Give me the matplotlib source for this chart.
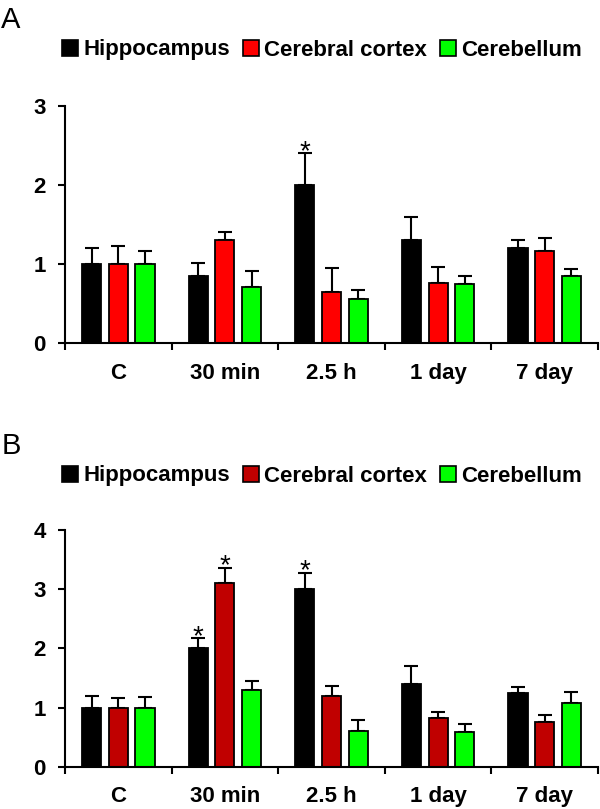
import matplotlib
matplotlib.use("Agg")
import matplotlib.pyplot as plt
from matplotlib.patches import Patch

plt.rcParams['font.family'] = ['Liberation Sans', 'DejaVu Sans']

categories = ["C", "30 min", "2.5 h", "1 day", "7 day"]
series = ["Hippocampus", "Cerebral cortex", "Cerebellum"]

# Panel A: means and upper error
hip_A = [1.00, 0.85, 2.00, 1.30, 1.20]
hip_A_err = [0.20, 0.16, 0.40, 0.30, 0.10]
ctx_A = [1.00, 1.30, 0.65, 0.76, 1.16]
ctx_A_err = [0.23, 0.10, 0.30, 0.20, 0.17]
cbl_A = [1.00, 0.71, 0.56, 0.745, 0.85]
cbl_A_err = [0.16, 0.20, 0.11, 0.10, 0.09]
sig_A = [(0, 2)]  # (series index, category index)

# Panel B
hip_B = [1.00, 2.00, 3.00, 1.40, 1.24]
hip_B_err = [0.19, 0.17, 0.28, 0.30, 0.10]
ctx_B = [1.00, 3.10, 1.19, 0.82, 0.75]
ctx_B_err = [0.155, 0.26, 0.17, 0.10, 0.12]
cbl_B = [1.00, 1.30, 0.60, 0.58, 1.07]
cbl_B_err = [0.18, 0.14, 0.19, 0.14, 0.20]
sig_B = [(0, 1), (1, 1), (0, 2)]

colors_A = ["#000000", "#FF0000", "#00FF00"]
colors_B = ["#000000", "#C00000", "#00FF00"]

fig = plt.figure(figsize=(6, 8.09), dpi=100)
W, H = 600, 809


def ax_rect(left, right, top, bottom):
    return [left / W, 1 - bottom / H, (right - left) / W, (bottom - top) / H]


def draw_panel(ax, vals, errs, colors, sigs, ymax):
    offsets = [-0.25, 0.0, 0.25]
    width = 0.18
    for s in range(3):
        xs = [i + 0.5 + offsets[s] for i in range(len(categories))]
        ax.errorbar(xs, vals[s], yerr=[[0] * len(errs[s]), errs[s]], fmt='none',
                    ecolor='black', elinewidth=1.5, capsize=5, capthick=1.5, zorder=1)
        ax.bar(xs, vals[s], width=width, color=colors[s], edgecolor='black',
               linewidth=1.3, zorder=2)
    for s, c in sigs:
        x = c + 0.5 + offsets[s]
        y = vals[s][c] + errs[s][c]
        ax.annotate('*', (x, y), xytext=(0, -4), textcoords='offset points',
                    ha='center', va='baseline', fontsize=20)
    ax.set_xlim(0, len(categories))
    ax.set_ylim(0, ymax)
    ax.set_yticks(range(0, ymax + 1))
    ax.set_xticks(range(0, len(categories) + 1))
    ax.set_xticklabels([])
    ax.set_xticks([i + 0.5 for i in range(len(categories))], minor=True)
    ax.set_xticklabels(categories, minor=True, fontsize=16, fontweight='bold')
    ax.tick_params(axis='x', which='minor', length=0, pad=14)
    ax.tick_params(axis='x', which='major', length=5, width=1.5, direction='out')
    ax.tick_params(axis='y', length=5, width=1.5, direction='out', pad=9)
    for lab in ax.get_yticklabels():
        lab.set_fontsize(16)
        lab.set_fontweight('bold')
    for sp in ['top', 'right']:
        ax.spines[sp].set_visible(False)
    for sp in ['left', 'bottom']:
        ax.spines[sp].set_linewidth(1.5)


def add_legend(colors, ycenter):
    handles = [Patch(facecolor=c, edgecolor='black', linewidth=1.2) for c in colors]
    fig.legend(handles, series, loc='center left',
               bbox_to_anchor=(62 / W, 1 - ycenter / H), ncol=3, frameon=False,
               borderpad=0, borderaxespad=0, handlelength=0.7, handleheight=0.7,
               handletextpad=0.25, columnspacing=0.6,
               prop={'size': 16, 'weight': 'bold'})


axA = fig.add_axes(ax_rect(65, 598, 105.7, 343.3))
draw_panel(axA, [hip_A, ctx_A, cbl_A], [hip_A_err, ctx_A_err, cbl_A_err],
           colors_A, sig_A, 3)
add_legend(colors_A, 50)
fig.text(0.002, 1 - 28 / H, "A", fontsize=21, va='baseline', ha='left')

axB = fig.add_axes(ax_rect(65, 598, 530, 766.7))
draw_panel(axB, [hip_B, ctx_B, cbl_B], [hip_B_err, ctx_B_err, cbl_B_err],
           colors_B, sig_B, 4)
add_legend(colors_B, 476)
fig.text(0.002, 1 - 454 / H, "B", fontsize=21, va='baseline', ha='left')

fig.savefig("out.png", dpi=100)
